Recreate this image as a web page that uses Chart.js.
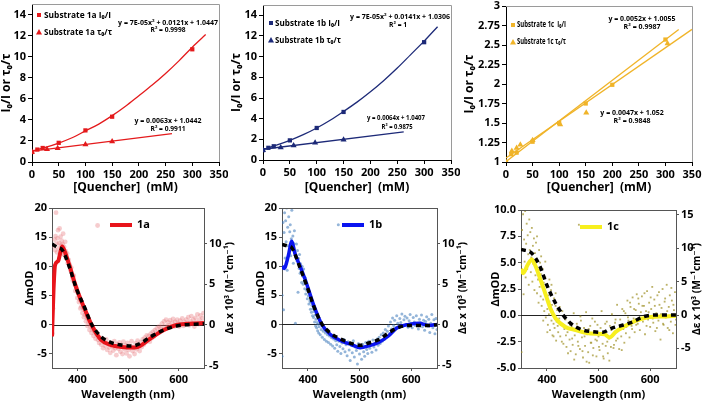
<!DOCTYPE html>
<html>
<head>
<meta charset="utf-8">
<script src="https://cdn.jsdelivr.net/npm/chart.js@4.4.1/dist/chart.umd.min.js"></script>
<style>
  body { margin: 0; background: #fff; width: 704px; height: 401px; overflow: hidden; position: relative; }
  .p { position: absolute; }
</style>
</head>
<body>
<div class="p" style="left:-1px;top:0;width:229px;height:195px"><canvas id="c1"></canvas></div>
<div class="p" style="left:229px;top:0;width:231px;height:195px"><canvas id="c2"></canvas></div>
<div class="p" style="left:462px;top:0;width:242px;height:195px"><canvas id="c3"></canvas></div>
<div class="p" style="left:23px;top:195px;width:214px;height:206px"><canvas id="c4"></canvas></div>
<div class="p" style="left:254px;top:195px;width:216px;height:206px"><canvas id="c5"></canvas></div>
<div class="p" style="left:489px;top:195px;width:215px;height:206px"><canvas id="c6"></canvas></div>
<script>
// ---------- DATA: quenching (top row) ----------
const qTicks = [0, 50, 100, 150, 200, 250, 300, 350];
const ratioTicks = [0, 2, 4, 6, 8, 10, 12, 14];
const ratio1cTicks = [1, 1.25, 1.5, 1.75, 2, 2.25, 2.5, 2.75, 3];

const q1aI = [0, 10, 20, 50, 100, 150, 300];
const r1aI = [0.95, 1.18, 1.33, 1.82, 3.0, 4.3, 10.7];
const q1aT = [0, 28, 48, 100, 150];
const r1aT = [0.95, 1.2, 1.3, 1.65, 1.95];
const fitQ1aI = [0, 25, 50, 75, 100, 125, 150, 175, 200, 225, 250, 275, 300, 325];
const fitR1aI = [1.04, 1.39, 1.8, 2.3, 2.95, 3.6, 4.4, 5.3, 6.3, 7.3, 8.4, 9.6, 10.9, 12.1];
const fitQ1aT = [0, 262];
const fitR1aT = [1.04, 2.7];

const q1bI = [0, 10, 20, 50, 100, 150, 300];
const r1bI = [0.95, 1.18, 1.33, 1.9, 3.1, 4.65, 11.4];
const q1bT = [0, 33, 57, 97, 150];
const r1bT = [0.95, 1.22, 1.4, 1.68, 1.95];
const fitQ1bI = [0, 25, 50, 75, 100, 125, 150, 175, 200, 225, 250, 275, 300, 325];
const fitR1bI = [1.03, 1.43, 1.9, 2.45, 3.1, 3.85, 4.7, 5.6, 6.6, 7.7, 8.9, 10.2, 11.5, 12.9];
const fitQ1bT = [0, 262];
const fitR1bT = [1.04, 2.72];

const q1cI = [0, 10, 20, 50, 100, 150, 200, 300];
const r1cI = [1.0, 1.1, 1.12, 1.26, 1.5, 1.75, 1.99, 2.57];
const q1cT = [0, 11, 20, 27, 50, 102, 151, 304];
const r1cT = [1.0, 1.14, 1.18, 1.22, 1.28, 1.48, 1.63, 2.52];
const fitQ1cI = [0, 325];
const fitR1cI = [1.005, 2.7];
const fitQ1cT = [0, 350];
const fitR1cT = [1.052, 2.7];

// ---------- DATA: difference spectra (bottom row) ----------
const wlTicks = [400, 500, 600];
const modTicks = [-5, 0, 5, 10, 15, 20];
const epsTicks = [-5, 0, 5, 10];
const mod1cTicks = [-5, -2.5, 0, 2.5, 5, 7.5, 10];
const eps1cTicks = [-5, 0, 5, 10, 15];

const line1aWl = [350, 353, 356, 362, 366, 370, 375, 385, 398, 415, 428, 447, 467, 487, 513, 520, 545, 571, 598, 630, 650];
const line1aVal = [-2, 6, 10.2, 10.9, 12.2, 13.4, 12.6, 10, 6.3, 2.6, 0, -2.6, -3.5, -3.8, -3.9, -3.8, -2.3, -0.9, 0, 0.2, 0.3];
const dash1aWl = [350, 362, 370, 385, 398, 415, 428, 447, 467, 487, 507, 520, 545, 571, 598, 650];
const dash1aVal = [9.96, 9.5, 9.26, 7.0, 4.5, 2.06, 0.1, -1.44, -2.18, -2.47, -2.6, -2.4, -1.44, -0.6, -0.1, 0.15];

const line1bWl = [350, 354, 362, 369, 375, 385, 398, 411, 427, 443, 466, 485, 501, 518, 537, 556, 573, 596, 615, 635, 650];
const line1bVal = [10, 9.6, 11.7, 14.3, 12.2, 10, 6.9, 3.4, 0, -1.7, -2.9, -3.5, -4.0, -3.7, -3.1, -2.0, -0.6, 0, 0.2, -0.2, 0];
const dash1bWl = [350, 362, 369, 385, 398, 411, 427, 443, 466, 485, 501, 518, 537, 556, 573, 596, 635, 650];
const dash1bVal = [9.9, 9.7, 9.5, 7.0, 4.8, 2.35, 0.1, -1.0, -1.85, -2.35, -2.55, -2.26, -1.85, -1.03, -0.4, -0.1, -0.1, 0];

const line1cWl = [350, 354, 363, 371, 377, 387, 397, 407, 417, 436, 456, 475, 495, 512, 521, 534, 554, 573, 599, 632, 650];
const line1cVal = [4.4, 4.0, 4.8, 5.3, 4.8, 3.5, 2.07, 0.64, -0.3, -1.1, -1.4, -1.65, -1.75, -1.8, -2.1, -1.55, -0.95, -0.5, -0.16, -0.1, -0.05];
const dash1cWl = [350, 371, 387, 400, 417, 430, 446, 469, 489, 508, 525, 548, 567, 587, 613, 650];
const dash1cVal = [9.85, 9.25, 7.25, 4.5, 1.75, 0.15, -1.25, -2.25, -2.5, -2.6, -2.0, -1.5, -1.0, -0.25, 0, 0];

const scat1a = [
  [351, -1.5], [352, 2.8], [353, 7.5], [354, 13.5], [355, 14.6], [356, 12.8], [357, 15.2], [358, 19.2], [359, 13.9], [360, 12.4],
  [361, 14.8], [362, 16.2], [363, 13.1], [364, 14.0], [365, 16.5], [366, 12.2], [367, 15.1], [368, 13.6], [369, 14.4], [370, 12.9],
  [371, 13.8], [372, 15.6], [373, 12.1], [374, 13.3], [375, 11.9], [376, 14.2], [377, 12.6], [378, 11.4], [380, 12.2], [381, 10.6],
  [383, 11.1], [385, 10.3], [386, 9.4], [388, 9.8], [390, 8.2], [391, 7.6], [393, 8.4], [395, 6.9], [396, 5.8], [398, 6.4],
  [400, 4.6], [401, 5.5], [403, 3.9], [405, 4.3], [406, 2.8], [408, 3.1], [410, 2.0], [412, 2.6], [413, 1.3], [415, 1.7],
  [417, 0.6], [419, 1.1], [420, -0.2], [422, 0.4], [424, -0.9], [426, -0.3], [428, -1.4], [430, -0.8], [432, -1.9], [434, -1.2],
  [436, -2.4], [438, -1.7], [440, 17.0], [441, -2.6], [443, -3.1], [445, -2.2], [447, -3.4], [449, -2.7], [451, -4.0], [453, -3.0],
  [455, -3.6], [457, -2.5], [459, -4.3], [461, -3.2], [463, -3.9], [465, -4.8], [467, -3.1], [469, -3.7], [471, -4.4], [473, -2.8],
  [475, -4.0], [477, -5.2], [479, -3.3], [481, -4.1], [483, -3.0], [485, -4.6], [487, -3.6], [489, -5.0], [491, -2.9], [493, -4.2],
  [495, -3.5], [497, -4.9], [499, -3.1], [501, -4.3], [503, -5.4], [505, -3.6], [507, -2.8], [509, -4.5], [511, -3.9], [513, -5.0],
  [515, -3.2], [517, -4.2], [519, -2.7], [521, -3.6], [523, -4.5], [525, -3.0], [527, -3.8], [529, -2.5], [531, -3.4], [533, -2.2],
  [535, -3.0], [537, -1.8], [539, -2.6], [541, -1.9], [543, -2.9], [545, -1.5], [547, -2.3], [549, -1.2], [551, -2.0], [553, -0.9],
  [555, -1.6], [557, -0.6], [559, -1.4], [561, -0.3], [563, -1.1], [565, -0.5], [567, 0.2], [569, -0.8], [571, 0.6], [573, -0.2],
  [575, 0.9], [577, -0.5], [579, 0.4], [581, -0.1], [583, 0.8], [585, -0.4], [587, 0.3], [589, 1.0], [591, -0.3], [593, 0.5],
  [595, -0.1], [597, 0.9], [599, 0.2], [601, -0.3], [603, 0.7], [605, 0.1], [607, 1.1], [609, -0.2], [611, 0.5], [613, 0.0],
  [615, 0.9], [617, 0.3], [619, 1.3], [621, -0.1], [623, 0.6], [625, 1.5], [627, 0.2], [629, 0.9], [631, -0.3], [633, 1.2],
  [635, 0.4], [637, 1.8], [639, 0.1], [641, 0.9], [643, 1.6], [645, 0.3], [647, 1.1], [649, 2.0]
];

const scat1b = [
  [350, -5.5], [350, 5.0], [351, 20], [352, 17.5], [353, 2.5], [354, 15.8], [355, 19.2], [356, 11.4], [357, 17.8], [358, 14.2],
  [359, 20], [360, 9.3], [361, 16.7], [362, 13.5], [363, 18.5], [364, 12.2], [365, 15.9], [366, 17.1], [367, 11.8], [368, 14.7],
  [369, 19.6], [370, 13.0], [371, 15.2], [372, 10.5], [373, 13.9], [374, 16.1], [375, 12.4], [376, 0.2], [377, 11.6], [378, 13.8],
  [379, 10.9], [380, 12.7], [381, 5.5], [382, 11.3], [383, 9.6], [384, 12.0], [385, 8.8], [386, 10.4], [387, 9.1], [388, 7.2],
  [389, 10.0], [390, 8.3], [391, 6.9], [392, 9.5], [393, 7.4], [394, 6.1], [395, 8.0], [396, 5.2], [397, 7.0], [398, 5.8],
  [399, 4.4], [400, 6.3], [401, 4.9], [402, 3.5], [403, 5.4], [404, 4.0], [405, 2.6], [406, 3.8], [407, 2.1], [408, 3.3],
  [409, 1.5], [410, 2.7], [411, 1.2], [412, 2.2], [413, 0.4], [414, 1.6], [415, -0.3], [416, 0.9], [417, -0.6], [418, 0.3],
  [419, -1.1], [420, 0.0], [421, -1.5], [422, -0.4], [424, -1.8], [426, -0.9], [428, -2.2], [430, -1.2], [432, -2.6], [434, -1.5],
  [436, -2.9], [438, -1.8], [440, -3.1], [442, -2.0], [444, -3.4], [446, -2.3], [448, -3.7], [450, -2.5], [452, -4.1], [454, -2.8],
  [456, -3.5], [458, -4.6], [459, 17.1], [460, -2.9], [462, -3.8], [464, -5.0], [466, -3.2], [468, -4.2], [470, -2.6], [472, -4.7],
  [474, -3.5], [476, -5.4], [478, -3.0], [480, -4.4], [482, -6.2], [484, -3.6], [486, -4.9], [488, -2.8], [490, -5.6], [492, -3.9],
  [494, -4.5], [496, -6.8], [498, -3.3], [500, -5.1], [502, -4.0], [504, -6.0], [506, -3.4], [508, -4.7], [510, -5.5], [512, -3.1],
  [514, -4.3], [516, -5.0], [518, -2.9], [520, -4.1], [522, -3.5], [524, -4.8], [526, -2.7], [528, -3.9], [530, -3.2], [532, -4.4],
  [534, -2.5], [536, -3.6], [538, -2.2], [540, -3.3], [542, -1.8], [544, -2.9], [546, -1.5], [548, -2.6], [550, -0.9], [552, -2.1],
  [554, -1.2], [556, -0.3], [558, -1.6], [560, 0.4], [562, -0.8], [564, 1.1], [566, -0.2], [568, 0.7], [570, -0.6], [572, 1.5],
  [574, 0.2], [576, -0.4], [578, 1.0], [580, 0.3], [582, 1.8], [584, -0.3], [586, 0.8], [588, 1.4], [590, 0.0], [592, 1.1],
  [594, -0.5], [596, 0.6], [598, 1.7], [600, 0.2], [602, -0.6], [604, 1.2], [606, 0.4], [608, -0.2], [610, 1.5], [612, 0.1],
  [614, -0.8], [616, 0.9], [618, 0.3], [620, 1.6], [622, -0.4], [624, 0.7], [626, -1.0], [628, 0.5], [630, 1.3], [632, -0.3],
  [634, 0.9], [636, -1.4], [638, 0.2], [640, 1.7], [642, -0.6], [644, 0.8], [646, -1.6], [648, 1.0], [650, -0.9]
];

const scat1c = [
  [350, 4.8], [351, -3.5], [352, 8.1], [353, 6.3], [354, 9.6], [355, 2.0], [356, 7.2], [357, 5.1], [358, 9.9], [359, 3.6],
  [360, 6.8], [361, 8.7], [362, 4.4], [363, 7.6], [364, 5.8], [365, 2.9], [366, 9.1], [367, 6.2], [368, 7.9], [369, 4.1],
  [370, 5.5], [371, 8.3], [372, 3.2], [373, 6.6], [374, 4.9], [375, 7.3], [376, 2.4], [377, 5.9], [378, 3.8], [379, 6.9],
  [380, 4.6], [381, 2.1], [381, 7.5], [382, 5.2], [383, 3.4], [384, 1.2], [385, 4.3], [385, 6.2], [386, 2.7], [387, 5.0],
  [388, 1.8], [389, 3.9], [389, 5.6], [390, 0.9], [391, 2.9], [392, 4.4], [393, 1.5], [393, -0.5], [394, 3.1], [395, 0.4],
  [396, 2.2], [397, 3.6], [397, 5.1], [398, -0.2], [399, 1.7], [400, 2.8], [401, 0.6], [401, -1.6], [402, -0.9], [403, 1.9],
  [404, 0.1], [405, 1.3], [405, 3.4], [406, -1.4], [407, 0.8], [408, 2.4], [409, -0.5], [409, 2.9], [410, 1.0], [411, -1.9],
  [412, 0.3], [413, -0.8], [413, -2.0], [414, 1.6], [415, -1.2], [416, -0.1], [417, 0.9], [417, 2.1], [418, -2.4], [419, -0.6],
  [420, 0.5], [421, -1.0], [422, -1.6], [424, -0.3], [425, 0.8], [426, -2.0], [428, -0.9], [429, -2.5], [430, 0.4], [432, -2.7],
  [433, -0.2], [434, -1.3], [436, -0.4], [437, -1.9], [438, -3.0], [440, -1.6], [441, -3.6], [442, -0.7], [444, -2.3], [445, -0.9],
  [446, -3.4], [448, -1.1], [449, -2.2], [450, -2.8], [452, 0.2], [453, -4.2], [454, -1.9], [456, -3.7], [457, -1.5], [458, -0.8],
  [460, -2.5], [461, -2.9], [462, 8.6], [462, -1.4], [464, -3.2], [465, -0.1], [466, -0.5], [468, -2.1], [469, -3.4], [470, -4.0],
  [472, -1.2], [473, -2.0], [474, -2.9], [476, 0.3], [477, -4.4], [478, -1.8], [480, -3.5], [481, -1.3], [482, -4.5], [484, -1.0],
  [485, -2.6], [486, -2.6], [488, -0.3], [489, -3.8], [490, -3.1], [492, -1.5], [493, -0.6], [494, -2.3], [496, -3.9], [497, -2.4],
  [498, -0.9], [500, -2.0], [501, -3.0], [502, -3.3], [504, -1.2], [505, -1.8], [506, 0.4], [508, -2.7], [509, -3.9], [510, -4.1],
  [512, -1.6], [513, -0.8], [514, -2.9], [516, -0.6], [517, -2.5], [518, -3.6], [520, -2.2], [521, -4.3], [522, -1.0], [524, -3.0],
  [525, -1.4], [526, 0.1], [528, -1.9], [529, -3.1], [530, -2.8], [532, -0.7], [533, -0.4], [534, -2.4], [536, 1.0], [537, -2.2],
  [538, -1.5], [540, -3.2], [541, -1.0], [542, -0.4], [544, -2.0], [545, -3.3], [546, 0.6], [548, -1.3], [549, 0.4], [550, -2.6],
  [552, 0.2], [553, -1.7], [554, -1.1], [556, 1.4], [557, -0.2], [558, -0.5], [560, -2.1], [561, 1.2], [562, 0.8], [564, -1.0],
  [565, -1.3], [566, 1.7], [568, -0.3], [569, 0.6], [570, -1.6], [572, 0.5], [573, -0.9], [574, 2.0], [576, -0.8], [577, 1.6],
  [578, 1.1], [580, -1.4], [581, -0.2], [582, 0.3], [584, 1.8], [585, 0.9], [586, -0.6], [588, 0.9], [589, 2.1], [590, -1.8],
  [592, 0.4], [593, -1.0], [594, 2.3], [596, -0.4], [597, 0.3], [598, 1.2], [600, -1.1], [601, 1.7], [602, 0.6], [604, 2.7],
  [605, -0.3], [606, -0.7], [608, 1.5], [609, 0.9], [610, -1.5], [612, 0.2], [613, -1.2], [614, 1.9], [616, -0.5], [617, 2.2],
  [618, 1.0], [620, -2.3], [621, 0.1], [622, 0.7], [624, 2.5], [625, -0.8], [626, -0.9], [628, 1.3], [629, 1.6], [630, -0.2],
  [632, 2.9], [633, 0.4], [634, -1.2], [636, 0.8], [637, -1.4], [638, 1.9], [640, -0.6], [641, 2.6], [642, 1.4], [644, -1.7],
  [645, 1.0], [646, 0.5], [648, 2.2], [649, -0.9], [650, -0.4]
];

// ---------- STYLE ----------
const RED = '#e41a1c', NAVY = '#1d2a78', GOLD = '#f0b429';
const FONT = "'Open Sans', 'DejaVu Sans', sans-serif";
Chart.defaults.font.family = FONT;
Chart.defaults.font.size = 11;
Chart.defaults.font.weight = 'bold';
Chart.defaults.color = '#000';

function pts(xs, ys) { return xs.map((x, i) => ({ x: x, y: ys[i] })); }
function pairPts(list) { return list.map(p => ({ x: p[0], y: p[1] })); }
function ticksAt(list) { return s => { s.ticks = list.map(v => ({ value: v })); }; }
function fixBox(prop, size) {
  return s => { s[prop] = size; s.paddingLeft = s.paddingRight = s.paddingTop = s.paddingBottom = 0; };
}

// ---------- PLUGIN: frame, zero line, in-plot texts ----------
const extras = {
  id: 'extras',
  beforeDatasetsDraw(chart, args, o) {
    if (!o.zero) return;
    const { ctx, chartArea: a } = chart;
    const y = Math.round(chart.scales.y.getPixelForValue(0)) + 0.5;
    ctx.save();
    ctx.strokeStyle = '#222';
    ctx.lineWidth = 1;
    ctx.beginPath(); ctx.moveTo(a.left, y); ctx.lineTo(a.right, y); ctx.stroke();
    ctx.restore();
  },
  afterDraw(chart, args, o) {
    const { ctx, chartArea: a } = chart;
    ctx.save();
    ctx.strokeStyle = o.frame;
    ctx.lineWidth = 1;
    ctx.beginPath();
    ctx.moveTo(a.left, a.top + 0.5);
    ctx.lineTo(a.right + 0.5, a.top + 0.5);
    ctx.lineTo(a.right + 0.5, a.bottom);
    ctx.stroke();

    ctx.textBaseline = 'middle';
    (o.legend || []).forEach(l => {
      ctx.fillStyle = l.color;
      ctx.strokeStyle = l.color;
      if (l.shape === 'rect') {
        ctx.fillRect(l.x - 2, l.y - 2, 4, 4);
      } else if (l.shape === 'tri') {
        ctx.beginPath();
        ctx.moveTo(l.x, l.y - 3); ctx.lineTo(l.x + 3, l.y + 2.5); ctx.lineTo(l.x - 3, l.y + 2.5);
        ctx.closePath(); ctx.fill();
      } else {
        ctx.lineWidth = l.lw;
        ctx.beginPath(); ctx.moveTo(l.x, l.y); ctx.lineTo(l.x + 22, l.y); ctx.stroke();
      }
      ctx.fillStyle = '#000';
      ctx.textAlign = 'left';
      ctx.font = 'bold ' + l.size + 'px ' + FONT;
      ctx.fillText(l.text, l.tx, l.y, l.w);
    });

    (o.notes || []).forEach(n => {
      ctx.fillStyle = '#000';
      ctx.textAlign = 'center';
      ctx.font = 'bold ' + (n.size || 7) + 'px ' + FONT;
      ctx.fillText(n.text, n.x, n.y, n.w);
    });

    if (o.rightTitle) {
      ctx.translate(chart.width - 7, (a.top + a.bottom) / 2);
      ctx.rotate(-Math.PI / 2);
      ctx.textAlign = 'center';
      ctx.fillStyle = '#000';
      ctx.font = 'bold 11px ' + FONT;
      ctx.fillText(o.rightTitle, 0, 0, 92);
    }
    ctx.restore();
  }
};

// ---------- TOP ROW ----------
function topChart(id, g, color, sets, yMin, yMax, yTicks, extra) {
  const datasets = [
    { data: pts(sets.fitIx, sets.fitIy), borderColor: color, borderWidth: 1.3, pointRadius: 0, cubicInterpolationMode: 'monotone' },
    { data: pts(sets.fitTx, sets.fitTy), borderColor: color, borderWidth: 1.3, pointRadius: 0 },
    { data: pts(sets.ix, sets.iy), showLine: false, pointStyle: 'rect', pointRadius: 3, backgroundColor: color, borderColor: color, borderWidth: 0 },
    { data: pts(sets.tx, sets.ty), showLine: false, pointStyle: 'triangle', pointRadius: 3.5, backgroundColor: color, borderColor: color, borderWidth: 0 }
  ];
  new Chart(document.getElementById(id), {
    type: 'line',
    data: { datasets: datasets },
    options: {
      animation: false, responsive: true, maintainAspectRatio: false,
      layout: { padding: { top: g.top, right: g.right, left: 0, bottom: 0 } },
      plugins: { legend: { display: false }, tooltip: { enabled: false }, extras: extra },
      scales: {
        x: {
          type: 'linear', min: 0, max: 350,
          afterBuildTicks: ticksAt(qTicks), afterFit: fixBox('height', g.xH),
          ticks: { color: '#000', padding: 2, maxRotation: 0, callback: v => String(v) },
          grid: { drawOnChartArea: false, color: '#000', tickLength: 4 },
          border: { color: '#000' },
          title: { display: true, text: '[Quencher]  (mM)', color: '#000', font: { size: 12, weight: 'bold' }, padding: 0 }
        },
        y: {
          type: 'linear', min: yMin, max: yMax,
          afterBuildTicks: ticksAt(yTicks), afterFit: fixBox('width', g.yW),
          ticks: { color: '#000', padding: 2, callback: v => String(v) },
          grid: { drawOnChartArea: false, color: '#000', tickLength: 4 },
          border: { color: '#000' },
          title: { display: true, text: 'I₀/I or τ₀/τ', color: '#000', font: { size: 12, weight: 'bold' }, padding: 0 }
        }
      }
    },
    plugins: [extras]
  });
}

topChart('c1', { top: 2, right: 9, xH: 33, yW: 33 }, RED,
  { ix: q1aI, iy: r1aI, tx: q1aT, ty: r1aT, fitIx: fitQ1aI, fitIy: fitR1aI, fitTx: fitQ1aT, fitTy: fitR1aT },
  0, 15, ratioTicks,
  {
    frame: '#9a9a9a',
    legend: [
      { shape: 'rect', color: RED, x: 40, y: 15, tx: 45, text: 'Substrate 1a I₀/I', size: 9.5, w: 67 },
      { shape: 'tri', color: RED, x: 40, y: 32, tx: 45, text: 'Substrate 1a τ₀/τ', size: 9.5, w: 68 }
    ],
    notes: [
      { text: 'y = 7E-05x² + 0.0121x + 1.0447', x: 169, y: 23, w: 100 },
      { text: 'R² = 0.9998', x: 169, y: 30, w: 35 },
      { text: 'y = 0.0063x + 1.0442', x: 169, y: 121, w: 67 },
      { text: 'R² = 0.9911', x: 169, y: 129, w: 35 }
    ]
  });

topChart('c2', { top: 5, right: 9, xH: 35, yW: 34 }, NAVY,
  { ix: q1bI, iy: r1bI, tx: q1bT, ty: r1bT, fitIx: fitQ1bI, fitIy: fitR1bI, fitTx: fitQ1bT, fitTy: fitR1bT },
  0, 15, ratioTicks,
  {
    frame: '#9a9a9a',
    legend: [
      { shape: 'rect', color: NAVY, x: 42, y: 23, tx: 46, text: 'Substrate 1b I₀/I', size: 9.5, w: 65 },
      { shape: 'tri', color: NAVY, x: 42, y: 40, tx: 46, text: 'Substrate 1b τ₀/τ', size: 9.5, w: 66 }
    ],
    notes: [
      { text: 'y = 7E-05x² + 0.0141x + 1.0306', x: 171, y: 17, w: 100 },
      { text: 'R² = 1', x: 169, y: 25, w: 18 },
      { text: 'y = 0.0064x + 1.0407', x: 167, y: 118, w: 58 },
      { text: 'R² = 0.9875', x: 168, y: 127, w: 31 }
    ]
  });

topChart('c3', { top: 6, right: 12, xH: 33, yW: 44 }, GOLD,
  { ix: q1cI, iy: r1cI, tx: q1cT, ty: r1cT, fitIx: fitQ1cI, fitIy: fitR1cI, fitTx: fitQ1cT, fitTy: fitR1cT },
  1, 3, ratio1cTicks,
  {
    frame: '#9a9a9a',
    legend: [
      { shape: 'rect', color: GOLD, x: 51, y: 25, tx: 55, text: 'Substrate 1c  I₀/I', size: 8.5, w: 49 },
      { shape: 'tri', color: GOLD, x: 51, y: 42, tx: 55, text: 'Substrate 1c τ₀/τ', size: 8.5, w: 49 }
    ],
    notes: [
      { text: 'y = 0.0052x + 1.0055', x: 180, y: 19, w: 67 },
      { text: 'R² = 0.9987', x: 180, y: 27, w: 37 },
      { text: 'y = 0.0047x + 1.052', x: 170, y: 113, w: 64 },
      { text: 'R² = 0.9848', x: 170, y: 121, w: 37 }
    ]
  });

// ---------- BOTTOM ROW ----------
function botChart(id, g, s) {
  const datasets = [
    { data: pts(s.dashWl, s.dashVal), yAxisID: 'y2', borderColor: '#000', borderWidth: 3.5, borderDash: [5, 4],
      pointRadius: 0, cubicInterpolationMode: 'monotone' },
    { data: pts(s.lineWl, s.lineVal), yAxisID: 'y', borderColor: s.lineColor, borderWidth: s.lineWidth,
      pointRadius: 0, cubicInterpolationMode: 'monotone' },
    { data: pairPts(s.scatter), yAxisID: 'y', showLine: false, pointStyle: s.pointStyle, pointRadius: s.pointRadius,
      backgroundColor: s.pointColor, borderWidth: 0 }
  ];
  const grid = { drawOnChartArea: false, color: '#555', tickLength: 3 };
  const border = { color: '#555' };
  new Chart(document.getElementById(id), {
    type: 'line',
    data: { datasets: datasets },
    options: {
      animation: false, responsive: true, maintainAspectRatio: false,
      layout: { padding: { top: g.top, right: 0, left: 0, bottom: 0 } },
      plugins: {
        legend: { display: false }, tooltip: { enabled: false },
        extras: {
          frame: '#555', zero: true,
          legend: [{ shape: 'line', color: s.lineColor, lw: 4, x: g.legX, y: g.legY, tx: g.legX + 27, text: s.name, size: 11, w: 20 }],
          rightTitle: 'Δε x 10³ (M⁻¹cm⁻¹)'
        }
      },
      scales: {
        x: {
          type: 'linear', min: 350, max: 650,
          afterBuildTicks: ticksAt(wlTicks), afterFit: fixBox('height', g.xH),
          ticks: { color: '#000', padding: 2, maxRotation: 0 },
          grid: grid, border: border,
          title: { display: true, text: 'Wavelength (nm)', color: '#000', font: { size: 11, weight: 'bold' }, padding: 0 }
        },
        y: {
          type: 'linear', position: 'left', min: s.yMin, max: s.yMax,
          afterBuildTicks: ticksAt(s.yTicks), afterFit: fixBox('width', g.yW),
          ticks: { color: '#000', padding: 2, callback: s.fmt || (v => String(v)) },
          grid: grid, border: border,
          title: { display: true, text: 'ΔmOD', color: '#000', font: { size: 11, weight: 'bold' }, padding: 0 }
        },
        y2: {
          type: 'linear', position: 'right', min: s.y2Min, max: s.y2Max,
          afterBuildTicks: ticksAt(s.y2Ticks), afterFit: fixBox('width', g.rW),
          ticks: { color: '#000', padding: 2, callback: v => String(v) },
          grid: grid, border: border
        }
      }
    },
    plugins: [extras]
  });
}

botChart('c4', { top: 13, xH: 33, yW: 29, rW: 33, legX: 87, legY: 30 }, {
  name: '1a', lineWl: line1aWl, lineVal: line1aVal, lineColor: '#e8141b', lineWidth: 4,
  dashWl: dash1aWl, dashVal: dash1aVal, scatter: scat1a,
  pointStyle: 'circle', pointRadius: 2.4, pointColor: 'rgba(228,110,115,0.35)',
  yMin: -7.4, yMax: 20, yTicks: modTicks, y2Min: -5.3, y2Max: 14.4, y2Ticks: epsTicks
});

botChart('c5', { top: 13, xH: 33, yW: 28, rW: 33, legX: 88, legY: 30 }, {
  name: '1b', lineWl: line1bWl, lineVal: line1bVal, lineColor: '#0a14f0', lineWidth: 3.5,
  dashWl: dash1bWl, dashVal: dash1bVal, scatter: scat1b,
  pointStyle: 'circle', pointRadius: 1.5, pointColor: 'rgba(60,120,185,0.55)',
  yMin: -7.5, yMax: 20, yTicks: modTicks, y2Min: -5.35, y2Max: 14.4, y2Ticks: epsTicks
});

botChart('c6', { top: 15, xH: 33, yW: 32, rW: 28, legX: 91, legY: 32 }, {
  name: '1c', lineWl: line1cWl, lineVal: line1cVal, lineColor: '#f7ef1e', lineWidth: 4,
  dashWl: dash1cWl, dashVal: dash1cVal, scatter: scat1c,
  pointStyle: 'rect', pointRadius: 1.3, pointColor: 'rgba(160,145,40,0.7)',
  yMin: -5, yMax: 10, yTicks: mod1cTicks, y2Min: -7.95, y2Max: 15.75, y2Ticks: eps1cTicks,
  fmt: v => v.toFixed(1)
});
</script>
</body>
</html>
